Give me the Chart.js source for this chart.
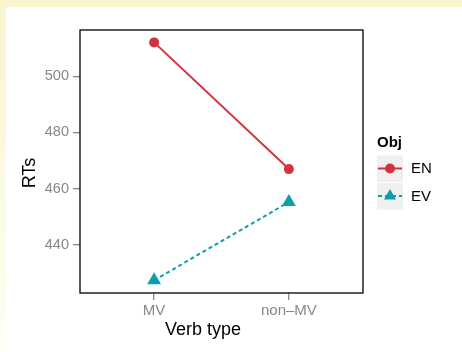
<!DOCTYPE html>
<html>
<head>
<meta charset="utf-8">
<script src="https://cdn.jsdelivr.net/npm/chart.js@4/dist/chart.umd.min.js"></script>
<style>
  html, body { margin: 0; padding: 0; }
  body {
    width: 462px; height: 352px; overflow: hidden; position: relative;
    background: linear-gradient(to bottom, #f8f5cf, #fffff3);
  }
  #panel { position: absolute; left: 6px; top: 7px; right: 0; bottom: 0; background: #fff; }
  #topbar { position: absolute; left: 0; top: 0; width: 462px; height: 7px; background: #f8f5cf; }
  #wrap { position: absolute; left: 0; top: 0; width: 462px; height: 352px; }
</style>
</head>
<body>
<div id="topbar"></div>
<div id="panel"></div>
<div id="wrap"><canvas id="myChart" width="462" height="352"></canvas></div>
<script>
// datos
const categories = ["MV", "non\u2013MV"];
const seriesNames = ["EN", "EV"];
const enValues = [512, 467];
const evValues = [427.5, 455.3];
const yTicks = [440, 460, 480, 500];

const red = "#d3323f";
const teal = "#0a9fac";
const font = "'Liberation Sans', Arial, sans-serif";

function toPoints(values) {
  return values.map((v, i) => ({ x: i, y: v }));
}

// borde del panel, titulos de ejes y leyenda
const extras = {
  id: "extras",
  afterDraw(chart) {
    const ctx = chart.ctx;
    const a = chart.chartArea;
    ctx.save();
    ctx.strokeStyle = "#000";
    ctx.lineWidth = 1.3;
    ctx.strokeRect(a.left, a.top, a.right - a.left, a.bottom - a.top);

    ctx.fillStyle = "#000";
    ctx.font = "18px " + font;
    ctx.textAlign = "center";
    ctx.textBaseline = "middle";
    ctx.fillText("Verb type", 203, 330);
    ctx.save();
    ctx.translate(30, 173);
    ctx.rotate(-Math.PI / 2);
    ctx.fillText("RTs", 0, 0);
    ctx.restore();

    // leyenda
    ctx.textAlign = "left";
    ctx.font = "bold 15px " + font;
    ctx.fillText("Obj", 377, 143);
    ctx.font = "15px " + font;
    chart.data.datasets.forEach((ds, i) => {
      const cy = 168.5 + i * 27.5;
      ctx.fillStyle = "#f0f0f0";
      ctx.fillRect(377, cy - 13, 26, 26.5);
      ctx.strokeStyle = ds.borderColor;
      ctx.lineWidth = 2;
      ctx.setLineDash(ds.borderDash || []);
      ctx.beginPath();
      ctx.moveTo(378, cy);
      ctx.lineTo(402, cy);
      ctx.stroke();
      ctx.setLineDash([]);
      ctx.fillStyle = ds.borderColor;
      if (ds.pointStyle === "triangle") {
        const r = 7;
        ctx.beginPath();
        ctx.moveTo(390, cy - r);
        ctx.lineTo(390 + r * 0.866, cy + r * 0.5);
        ctx.lineTo(390 - r * 0.866, cy + r * 0.5);
        ctx.closePath();
        ctx.fill();
      } else {
        ctx.beginPath();
        ctx.arc(390, cy, 5, 0, Math.PI * 2);
        ctx.fill();
      }
      ctx.fillStyle = "#000";
      ctx.fillText(ds.label, 411, cy + 0.5);
    });
    ctx.restore();
  }
};

let ctx = document.getElementById("myChart").getContext("2d");
let myChart = new Chart(ctx, {
  type: "line",
  data: {
    datasets: [{
      label: seriesNames[0],
      data: toPoints(enValues),
      borderColor: red,
      backgroundColor: red,
      borderWidth: 2,
      pointStyle: "circle",
      pointRadius: 5,
      pointBorderWidth: 0
    }, {
      label: seriesNames[1],
      data: toPoints(evValues),
      borderColor: teal,
      backgroundColor: teal,
      borderWidth: 2,
      borderDash: [4, 3],
      pointStyle: "triangle",
      pointRadius: 8,
      pointBorderWidth: 0
    }]
  },
  options: {
    responsive: false,
    animation: false,
    events: [],
    layout: { padding: { top: 30, right: 99, left: 0, bottom: 0 } },
    plugins: { legend: { display: false }, tooltip: { enabled: false } },
    scales: {
      x: {
        type: "linear",
        min: -0.55,
        max: 1.55,
        afterBuildTicks: s => { s.ticks = categories.map((c, i) => ({ value: i })); },
        afterFit: s => { s.height = 59; },
        border: { display: false },
        grid: { drawOnChartArea: false, drawTicks: true, tickLength: 7, color: "#888", lineWidth: 1.3 },
        ticks: { color: "#888", padding: 2, font: { family: font, size: 15 }, callback: v => categories[v] }
      },
      y: {
        min: 423,
        max: 516.4,
        afterBuildTicks: s => { s.ticks = yTicks.map(v => ({ value: v })); },
        afterFit: s => { s.width = 80; },
        border: { display: false },
        grid: { drawOnChartArea: false, drawTicks: true, tickLength: 7, color: "#888", lineWidth: 1.3 },
        ticks: { color: "#888", padding: 4, font: { family: font, size: 14.5 } }
      }
    }
  },
  plugins: [extras]
});
</script>
</body>
</html>
